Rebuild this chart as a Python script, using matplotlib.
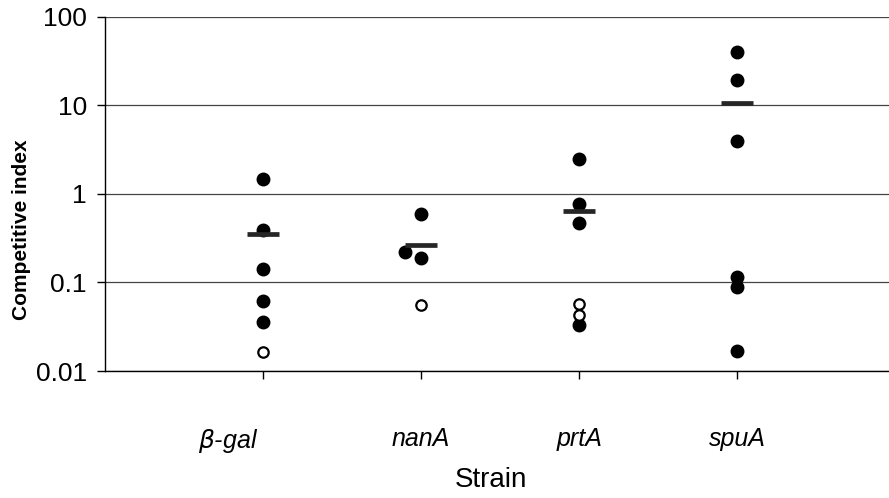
import numpy as np
import matplotlib
matplotlib.use('Agg')
import matplotlib.pyplot as plt
import matplotlib.transforms as mtransforms

plt.rcParams['font.family'] = ['Liberation Sans', 'DejaVu Sans']

strains = ['$\\beta$-gal', 'nanA', 'prtA', 'spuA']

# competitive index per mouse, filled = detected, open = below detection
filled = [
    [1.48, 0.395, 0.142, 0.061, 0.036],
    [0.60, 0.22, 0.19],
    [2.5, 0.77, 0.47, 0.033],
    [40.5, 19.6, 4.0, 0.115, 0.089, 0.017],
]
hollow = [
    [0.0165],
    [0.055],
    [0.057, 0.043],
    [],
]
# small sideways shifts used to separate overlapping dots
filled_shift = [
    [0, 0, 0, 0, 0],
    [0, -0.1, 0],
    [0, 0, 0, 0],
    [0, 0, 0, 0, 0, 0],
]

fig = plt.figure(figsize=(8.89, 4.98), dpi=100)
ax = fig.add_axes([0.118, 0.255, 0.882, 0.711])

for i in range(len(strains)):
    pos = i + 1
    ax.plot(pos + np.array(filled_shift[i]), filled[i], 'o', color='black',
            markersize=9, zorder=3)
    if len(hollow[i]) > 0:
        ax.plot([pos] * len(hollow[i]), hollow[i], 'o', markerfacecolor='white',
                markeredgecolor='black', markeredgewidth=1.6, markersize=7.5,
                zorder=3)
    avg = np.mean(filled[i] + hollow[i])
    ax.plot([pos - 0.1, pos + 0.1], [avg, avg], color='#262626',
            linewidth=3.4, solid_capstyle='butt', zorder=4)

ax.set_yscale('log')
ax.set_ylim(0.01, 100)
ax.set_xlim(0, 4.96)
ax.set_yticks([0.01, 0.1, 1, 10, 100])
ax.set_yticklabels(['0.01', '0.1', '1', '10', '100'])
ax.minorticks_off()
ax.set_xticks([1, 2, 3, 4])
ax.set_xticklabels(strains, fontstyle='italic', fontsize=18)
ax.tick_params(axis='x', length=6, width=1, pad=34)
ax.tick_params(axis='y', length=6, width=1, pad=7, labelsize=19)

# beta-gal label sits a little left of its tick in the original
lab = ax.get_xticklabels()[0]
lab.set_transform(lab.get_transform() +
                  mtransforms.ScaledTranslation(-0.35, 0, fig.dpi_scale_trans))

ax.grid(axis='y', color='#444444', linewidth=0.9)
ax.set_axisbelow(True)
for s in ['top', 'right']:
    ax.spines[s].set_visible(False)
ax.spines['left'].set_linewidth(1)
ax.spines['bottom'].set_linewidth(1)

ax.set_ylabel('Competitive index', fontsize=15, fontweight='bold')
ax.yaxis.set_label_coords(-0.094, 0.40)
ax.set_xlabel('Strain', fontsize=20)
ax.xaxis.set_label_coords(0.492, -0.27)

fig.savefig('out.png', dpi=100)
